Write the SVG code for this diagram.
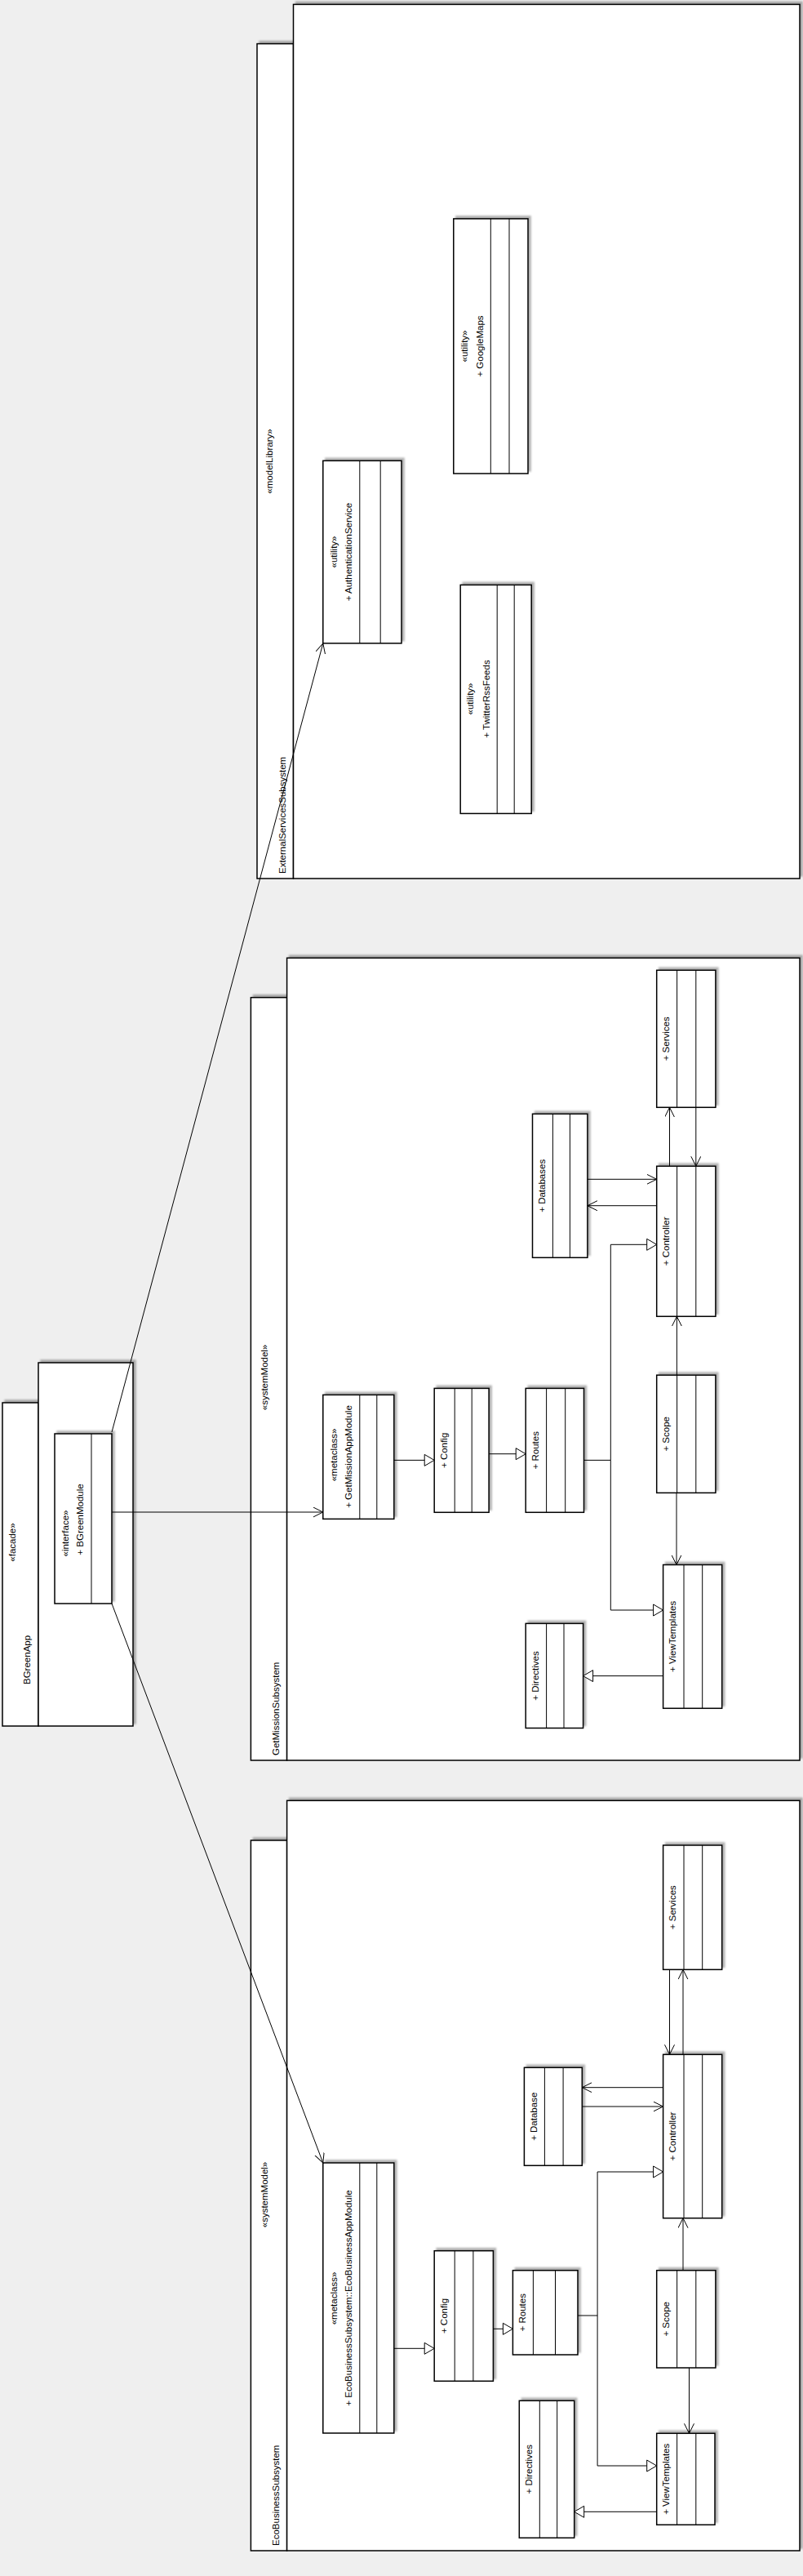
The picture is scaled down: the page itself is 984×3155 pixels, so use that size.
<svg xmlns="http://www.w3.org/2000/svg" width="984" height="3155" viewBox="0 0 984 3155">
<defs>
<style>
.pkg{fill:#fff;stroke:#000;stroke-width:1.5;filter:url(#sh);}
.box{fill:#fff;stroke:#000;stroke-width:1.5;filter:url(#sh);}
.dv{stroke:#000;stroke-width:1;}
.t{font-family:"Liberation Sans",Arial,sans-serif;font-size:11.5px;fill:#000;}
.c{text-anchor:middle;dominant-baseline:central;}
.s{text-anchor:start;dominant-baseline:central;}
.cn{fill:none;stroke:#000;stroke-width:1;}
.oa{marker-end:url(#open);}
.ga{marker-end:url(#tri);}
</style>
<filter id="sh" x="-20%" y="-20%" width="140%" height="140%">
<feDropShadow dx="3" dy="-3" stdDeviation="1.2" flood-color="#000" flood-opacity="0.3"/>
</filter>
<marker id="open" markerWidth="14" markerHeight="14" refX="12" refY="6" orient="auto" markerUnits="userSpaceOnUse">
<path d="M0,0 L12,6 L0,12" fill="none" stroke="#000" stroke-width="1"/>
</marker>
<marker id="tri" markerWidth="16" markerHeight="18" refX="13" refY="8" orient="auto" markerUnits="userSpaceOnUse">
<path d="M1,1 L13,8 L1,15 Z" fill="#fff" stroke="#000" stroke-width="1"/>
</marker>
</defs>
<rect x="0" y="0" width="984" height="3155" fill="#efefef"/>

<!-- Packages -->
<g id="pkg-bgreenapp">
<rect class="pkg" x="3" y="1718" width="44" height="396"/>
<rect class="pkg" x="47" y="1669" width="116" height="445"/>
<text class="t c" transform="translate(15.3,1889) rotate(-90)">«facade»</text>
<text class="t s" transform="translate(33.3,2063) rotate(-90)">BGreenApp</text>
</g>
<g id="pkg-external">
<rect class="pkg" x="315" y="53.6" width="44.5" height="1022.4"/>
<rect class="pkg" x="359.5" y="5.4" width="620.5" height="1070.6"/>
<text class="t c" transform="translate(330,565) rotate(-90)">«modelLibrary»</text>
<text class="t s" transform="translate(346,1070) rotate(-90)">ExternalServicesSubsystem</text>
</g>
<g id="pkg-getmission">
<rect class="pkg" x="307.4" y="1221.7" width="44.2" height="934.3"/>
<rect class="pkg" x="351.6" y="1173.3" width="628.4" height="982.7"/>
<text class="t c" transform="translate(324,1687) rotate(-90)">«systemModel»</text>
<text class="t s" transform="translate(338,2150) rotate(-90)">GetMissionSubsystem</text>
</g>
<g id="pkg-ecobusiness">
<rect class="pkg" x="307.4" y="2254" width="44.2" height="870"/>
<rect class="pkg" x="351.6" y="2205.3" width="628.4" height="918.7"/>
<text class="t c" transform="translate(324,2688) rotate(-90)">«systemModel»</text>
<text class="t s" transform="translate(338,3118) rotate(-90)">EcoBusinessSubsystem</text>
</g>

<!-- BGreenApp content -->
<g id="bgreenmodule">
<rect class="box" x="67" y="1756" width="70" height="208"/>
<line class="dv" x1="112" y1="1756" x2="112" y2="1964"/>
<text class="t c" transform="translate(80,1878) rotate(-90)">«interface»</text>
<text class="t c" transform="translate(98,1861) rotate(-90)">+ BGreenModule</text>
</g>

<!-- External services -->
<g id="authenticationservice">
<rect class="box" x="395.8" y="564.3" width="96.2" height="223.6"/>
<line class="dv" x1="440.8" y1="564.3" x2="440.8" y2="787.9"/>
<line class="dv" x1="466.2" y1="564.3" x2="466.2" y2="787.9"/>
<text class="t c" transform="translate(408.5,676) rotate(-90)">«utility»</text>
<text class="t c" transform="translate(426.8,676) rotate(-90)">+ AuthenticationService</text>
</g>
<g id="googlemaps">
<rect class="box" x="555.8" y="267.9" width="91.2" height="312.1"/>
<line class="dv" x1="601.3" y1="267.9" x2="601.3" y2="580"/>
<line class="dv" x1="624" y1="267.9" x2="624" y2="580"/>
<text class="t c" transform="translate(569,424) rotate(-90)">«utility»</text>
<text class="t c" transform="translate(588,424) rotate(-90)">+ GoogleMaps</text>
</g>
<g id="twitterrssfeeds">
<rect class="box" x="564.2" y="716.4" width="87" height="280"/>
<line class="dv" x1="609.2" y1="716.4" x2="609.2" y2="996.4"/>
<line class="dv" x1="630.2" y1="716.4" x2="630.2" y2="996.4"/>
<text class="t c" transform="translate(576.4,856) rotate(-90)">«utility»</text>
<text class="t c" transform="translate(595.6,856) rotate(-90)">+ TwitterRssFeeds</text>
</g>

<!-- GetMission -->
<g id="gm-module">
<rect class="box" x="395.8" y="1708.4" width="87" height="152"/>
<line class="dv" x1="440.8" y1="1708.4" x2="440.8" y2="1860.4"/>
<line class="dv" x1="461.8" y1="1708.4" x2="461.8" y2="1860.4"/>
<text class="t c" transform="translate(408.5,1782) rotate(-90)">«metaclass»</text>
<text class="t c" transform="translate(426.8,1784) rotate(-90)">+ GetMissionAppModule</text>
</g>
<g id="gm-config">
<rect class="box" x="532.2" y="1700.4" width="66.9" height="151.9"/>
<line class="dv" x1="557.2" y1="1700.4" x2="557.2" y2="1852.3"/>
<line class="dv" x1="578.2" y1="1700.4" x2="578.2" y2="1852.3"/>
<text class="t c" transform="translate(543.6,1776.3) rotate(-90)">+ Config</text>
</g>
<g id="gm-routes">
<rect class="box" x="644.2" y="1700.4" width="71.3" height="151.9"/>
<line class="dv" x1="669.6" y1="1700.4" x2="669.6" y2="1852.3"/>
<line class="dv" x1="692.7" y1="1700.4" x2="692.7" y2="1852.3"/>
<text class="t c" transform="translate(655.6,1776.3) rotate(-90)">+ Routes</text>
</g>
<g id="gm-services">
<rect class="box" x="804.7" y="1188.3" width="72.2" height="168"/>
<line class="dv" x1="829.6" y1="1188.3" x2="829.6" y2="1356.3"/>
<line class="dv" x1="852.8" y1="1188.3" x2="852.8" y2="1356.3"/>
<text class="t c" transform="translate(816,1272.3) rotate(-90)">+ Services</text>
</g>
<g id="gm-databases">
<rect class="box" x="652.5" y="1364.3" width="67.4" height="176"/>
<line class="dv" x1="677.4" y1="1364.3" x2="677.4" y2="1540.3"/>
<line class="dv" x1="698.4" y1="1364.3" x2="698.4" y2="1540.3"/>
<text class="t c" transform="translate(663.5,1452.3) rotate(-90)">+ Databases</text>
</g>
<g id="gm-controller">
<rect class="box" x="804.7" y="1428.3" width="72.2" height="184"/>
<line class="dv" x1="829.6" y1="1428.3" x2="829.6" y2="1612.3"/>
<line class="dv" x1="852.8" y1="1428.3" x2="852.8" y2="1612.3"/>
<text class="t c" transform="translate(816,1520.3) rotate(-90)">+ Controller</text>
</g>
<g id="gm-scope">
<rect class="box" x="804.7" y="1684.2" width="72.2" height="144.2"/>
<line class="dv" x1="829.6" y1="1684.2" x2="829.6" y2="1828.4"/>
<line class="dv" x1="852.8" y1="1684.2" x2="852.8" y2="1828.4"/>
<text class="t c" transform="translate(816,1756.3) rotate(-90)">+ Scope</text>
</g>
<g id="gm-viewtemplates">
<rect class="box" x="812.6" y="1916.5" width="72.1" height="175.8"/>
<line class="dv" x1="838" y1="1916.5" x2="838" y2="2092.3"/>
<line class="dv" x1="860.7" y1="1916.5" x2="860.7" y2="2092.3"/>
<text class="t c" transform="translate(824,2004.4) rotate(-90)">+ ViewTemplates</text>
</g>
<g id="gm-directives">
<rect class="box" x="644.2" y="1988.4" width="70.4" height="128.1"/>
<line class="dv" x1="669.6" y1="1988.4" x2="669.6" y2="2116.5"/>
<line class="dv" x1="691" y1="1988.4" x2="691" y2="2116.5"/>
<text class="t c" transform="translate(655.5,2052.5) rotate(-90)">+ Directives</text>
</g>

<!-- EcoBusiness -->
<g id="eb-module">
<rect class="box" x="395.8" y="2649" width="87" height="331"/>
<line class="dv" x1="440.8" y1="2649" x2="440.8" y2="2980"/>
<line class="dv" x1="461.8" y1="2649" x2="461.8" y2="2980"/>
<text class="t c" transform="translate(408.5,2815) rotate(-90)">«metaclass»</text>
<text class="t c" transform="translate(426.8,2814.5) rotate(-90)">+ EcoBusinessSubsystem::EcoBusinessAppModule</text>
</g>
<g id="eb-config">
<rect class="box" x="532.2" y="2756.7" width="72.2" height="159.6"/>
<line class="dv" x1="557.2" y1="2756.7" x2="557.2" y2="2916.3"/>
<line class="dv" x1="579.9" y1="2756.7" x2="579.9" y2="2916.3"/>
<text class="t c" transform="translate(543.6,2836.5) rotate(-90)">+ Config</text>
</g>
<g id="eb-routes">
<rect class="box" x="628.4" y="2780.7" width="79.6" height="103.3"/>
<line class="dv" x1="653.4" y1="2780.7" x2="653.4" y2="2884"/>
<line class="dv" x1="680.5" y1="2780.7" x2="680.5" y2="2884"/>
<text class="t c" transform="translate(639.5,2832.3) rotate(-90)">+ Routes</text>
</g>
<g id="eb-services">
<rect class="box" x="812.6" y="2260" width="72.1" height="152.3"/>
<line class="dv" x1="838" y1="2260" x2="838" y2="2412.3"/>
<line class="dv" x1="860.7" y1="2260" x2="860.7" y2="2412.3"/>
<text class="t c" transform="translate(824,2336.2) rotate(-90)">+ Services</text>
</g>
<g id="eb-database">
<rect class="box" x="642.4" y="2532.3" width="70.9" height="120"/>
<line class="dv" x1="667.4" y1="2532.3" x2="667.4" y2="2652.3"/>
<line class="dv" x1="690.1" y1="2532.3" x2="690.1" y2="2652.3"/>
<text class="t c" transform="translate(653.5,2592.3) rotate(-90)">+ Database</text>
</g>
<g id="eb-controller">
<rect class="box" x="812.6" y="2516.3" width="72.1" height="200.4"/>
<line class="dv" x1="838" y1="2516.3" x2="838" y2="2716.7"/>
<line class="dv" x1="860.7" y1="2516.3" x2="860.7" y2="2716.7"/>
<text class="t c" transform="translate(824,2616.5) rotate(-90)">+ Controller</text>
</g>
<g id="eb-scope">
<rect class="box" x="804.7" y="2780.7" width="72.2" height="119.3"/>
<line class="dv" x1="829.6" y1="2780.7" x2="829.6" y2="2900"/>
<line class="dv" x1="852.8" y1="2780.7" x2="852.8" y2="2900"/>
<text class="t c" transform="translate(816,2840.3) rotate(-90)">+ Scope</text>
</g>
<g id="eb-viewtemplates">
<rect class="box" x="804.7" y="2980.3" width="71.3" height="112"/>
<line class="dv" x1="829.6" y1="2980.3" x2="829.6" y2="3092.3"/>
<line class="dv" x1="852.8" y1="2980.3" x2="852.8" y2="3092.3"/>
<text class="t c" transform="translate(816,3036.3) rotate(-90)">+ ViewTemplates</text>
</g>
<g id="eb-directives">
<rect class="box" x="636.3" y="2940.3" width="67.4" height="168"/>
<line class="dv" x1="661.3" y1="2940.3" x2="661.3" y2="3108.3"/>
<line class="dv" x1="682.7" y1="2940.3" x2="682.7" y2="3108.3"/>
<text class="t c" transform="translate(647.8,3024.3) rotate(-90)">+ Directives</text>
</g>

<!-- Connectors -->
<g id="connectors">
<path class="cn oa" d="M137,1754 L395.8,788"/>
<path class="cn oa" d="M137,1852 L395.8,1852"/>
<path class="cn oa" d="M137,1964 L395.8,2649"/>

<path class="cn oa" d="M820.5,1428.3 L820.5,1356.3"/>
<path class="cn oa" d="M852.8,1356.3 L852.8,1428.3"/>
<path class="cn oa" d="M719.9,1444.3 L804.7,1444.3"/>
<path class="cn oa" d="M804.7,1476.7 L719.9,1476.7"/>
<path class="cn ga" d="M715.5,1788.4 H748.3 V1524.3 H804.7"/>
<path class="cn ga" d="M748.3,1788.4 V1972 H812.6"/>
<path class="cn oa" d="M829.4,1684.2 L829.4,1612.3"/>
<path class="cn oa" d="M829,1828.4 L829,1916.5"/>
<path class="cn ga" d="M482.8,1788.4 L532.2,1788.4"/>
<path class="cn ga" d="M599.1,1780.7 L644.2,1780.7"/>
<path class="cn ga" d="M812.6,2052.6 L714.6,2052.6"/>

<path class="cn oa" d="M820.5,2412.3 L820.5,2516.3"/>
<path class="cn oa" d="M837,2516.3 L837,2412.3"/>
<path class="cn oa" d="M812.6,2556.7 L713.3,2556.7"/>
<path class="cn oa" d="M713.3,2580 L812.6,2580"/>
<path class="cn ga" d="M708,2836 H732.1 V2660 H812.6"/>
<path class="cn ga" d="M732.1,2836 V3020 H804.7"/>
<path class="cn ga" d="M482.8,2876.3 L532.2,2876.3"/>
<path class="cn ga" d="M604.4,2852.3 L628.4,2852.3"/>
<path class="cn oa" d="M837,2780.7 L837,2716.7"/>
<path class="cn oa" d="M844.5,2900 L844.5,2980.3"/>
<path class="cn ga" d="M804.7,3076.3 L703.7,3076.3"/>
</g>
</svg>
